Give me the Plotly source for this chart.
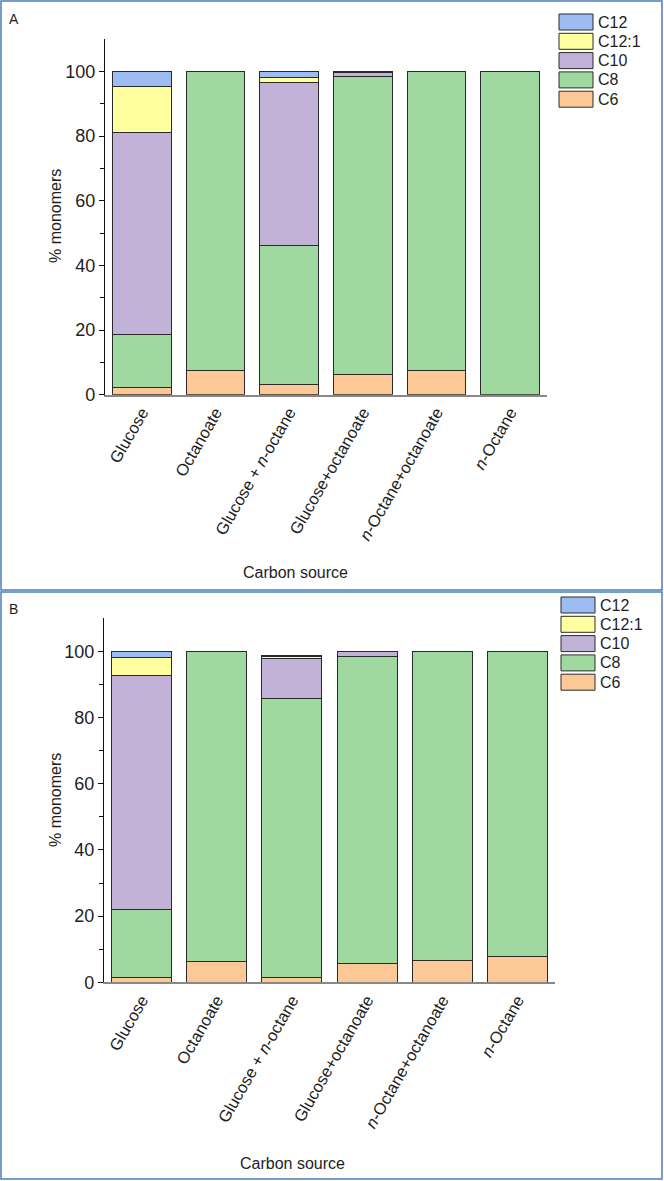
import plotly.graph_objects as go

# ---------------- data ----------------
categories = ["Glucose", "Octanoate", "Glucose + <i>n</i>-octane", "Glucose+octanoate",
              "<i>n</i>-Octane+octanoate", "<i>n</i>-Octane"]
series_names = ["C6", "C8", "C10", "C12:1", "C12"]

# Panel A
A_C6 = [2.3, 7.4, 3.3, 6.2, 7.4, None]
A_C8 = [16.3, 92.6, 42.9, 92.3, 92.6, 100.0]
A_C10 = [62.5, None, 50.4, 1.0, None, None]
A_C12_1 = [14.3, None, 1.6, 0.2, None, None]
A_C12 = [4.6, None, 1.8, 0.3, None, None]

# Panel B
B_C6 = [1.4, 6.2, 1.4, 5.7, 6.6, 7.9]
B_C8 = [20.7, 93.8, 84.4, 92.8, 93.4, 92.1]
B_C10 = [70.5, None, 12.1, 1.5, None, None]
B_C12_1 = [5.5, None, 0.5, None, None, None]
B_C12 = [1.9, None, 0.4, None, None, None]

y_tickvals = [0, 20, 40, 60, 80, 100]
y_ticktext = ["0", "20", "40", "60", "80", "100"]

colors = {"C6": "#fcc996", "C8": "#9fd99f", "C10": "#c3b2d7", "C12:1": "#ffff9f", "C12": "#9dbdf2"}

W, H = 664, 1181
FONT = "Liberation Sans, Arial, sans-serif"
TXT = "#1e1e1e"


def px_x(p):
    return p / W


def px_y(p):
    return 1 - p / H


fig = go.Figure()

panels = [
    ("x", "y", [A_C6, A_C8, A_C10, A_C12_1, A_C12]),
    ("x2", "y2", [B_C6, B_C8, B_C10, B_C12_1, B_C12]),
]
for xa, ya, vals in panels:
    for name, v in zip(series_names, vals):
        fig.add_trace(go.Bar(
            x=categories, y=v, name=name, xaxis=xa, yaxis=ya,
            marker=dict(color=colors[name], line=dict(color="#2a2a2a", width=1)),
            showlegend=False,
        ))

axis_common_y = dict(
    range=[0, 110], tickvals=y_tickvals, ticktext=y_ticktext,
    showline=True, linecolor="#111111", linewidth=1.2,
    ticks="outside", ticklen=5, tickwidth=1.2, tickcolor="#111111",
    minor=dict(tickvals=[10, 30, 50, 70, 90], ticks="outside", ticklen=4, tickcolor="#111111", tickwidth=1),
    showgrid=False, zeroline=False,
    tickfont=dict(family=FONT, size=18, color=TXT),
    automargin=False,
)
axis_common_x = dict(
    type="category", range=[-0.5, 5.5],
    showline=True, linecolor="#888888", linewidth=1.5,
    ticks="", showgrid=False, zeroline=False,
    tickangle=-60,
    tickfont=dict(family=FONT, size=16.5, color=TXT),
    automargin=False,
)

fig.update_layout(
    width=W, height=H,
    margin=dict(l=0, r=0, t=0, b=0),
    paper_bgcolor="white", plot_bgcolor="white",
    barmode="stack", bargap=0.2,
    showlegend=False,
    xaxis=dict(domain=[px_x(105), px_x(547)], anchor="y", **axis_common_x),
    yaxis=dict(domain=[px_y(394.7), px_y(39)], anchor="x", **axis_common_y),
    xaxis2=dict(domain=[px_x(104), px_x(555)], anchor="y2", **axis_common_x),
    yaxis2=dict(domain=[px_y(982.3), px_y(618.2)], anchor="x2", **axis_common_y),
)

shapes = []
annotations = []
# panel borders
for (top, bottom) in [(1, 590), (592, 1179)]:
    shapes.append(dict(type="rect", xref="paper", yref="paper",
                       x0=px_x(1), x1=px_x(662), y0=px_y(bottom), y1=px_y(top),
                       line=dict(color="#4a7ebb", width=1.5)))

# panel letters
for letter, yc in [("A", 19), ("B", 609)]:
    annotations.append(dict(text=letter, xref="paper", yref="paper", x=px_x(7), y=px_y(yc),
                            xanchor="left", yanchor="middle", showarrow=False,
                            font=dict(family=FONT, size=14, color=TXT)))

# axis titles
for xc, yc in [(295, 572), (292, 1163)]:
    annotations.append(dict(text="Carbon source", xref="paper", yref="paper", x=px_x(xc), y=px_y(yc),
                            xanchor="center", yanchor="middle", showarrow=False,
                            font=dict(family=FONT, size=16, color=TXT)))
for xc, yc in [(55, 216), (55, 800)]:
    annotations.append(dict(text="% monomers", xref="paper", yref="paper", x=px_x(xc), y=px_y(yc),
                            xanchor="center", yanchor="middle", showarrow=False, textangle=-90,
                            font=dict(family=FONT, size=16, color=TXT)))

# legends (drawn as keyed boxes, top to bottom)
legend_order = ["C12", "C12:1", "C10", "C8", "C6"]
for lx, ly0 in [(559, 14), (561, 597)]:
    for i, name in enumerate(legend_order):
        top = ly0 + i * 19.3
        shapes.append(dict(type="rect", xref="paper", yref="paper",
                           x0=px_x(lx), x1=px_x(lx + 34), y0=px_y(top + 16), y1=px_y(top),
                           fillcolor=colors[name], line=dict(color="#2a2a2a", width=1)))
        annotations.append(dict(text=name, xref="paper", yref="paper", x=px_x(lx + 37), y=px_y(top + 8),
                                xanchor="left", yanchor="middle", showarrow=False,
                                font=dict(family=FONT, size=16, color=TXT)))

fig.update_layout(shapes=shapes, annotations=annotations)
fig.write_html("out.html")
